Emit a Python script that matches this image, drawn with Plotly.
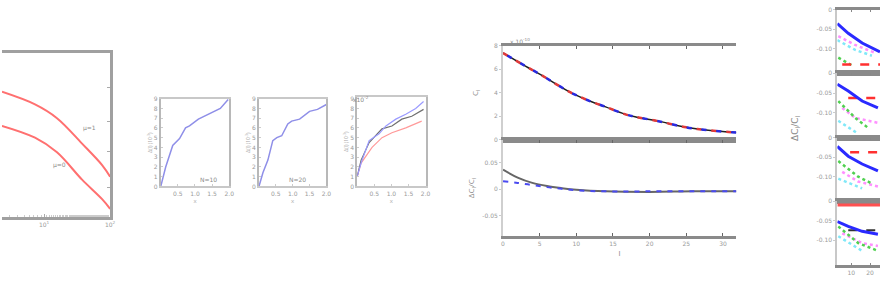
import plotly.graph_objects as go

W, H = 885, 288
def fx(p): return p / W
def fy(p): return 1 - p / H

# ---------------- Panel A (log x) ----------------
a_x = [2.31, 7.3, 15.7, 37.6, 75.6, 100]
a_upper = [0.762, 0.685, 0.601, 0.446, 0.315, 0.244]
a_lower = [0.554, 0.482, 0.393, 0.226, 0.107, 0.048]
a_labels = ["μ=1", "μ=0"]

# ---------------- Panel B ----------------
b1_x = [0, 0.29, 0.70, 1.10, 1.45, 1.68, 2.20, 2.78, 3.48, 3.94]
b1_y = [0, 2.0, 4.2, 4.9, 6.0, 6.2, 6.9, 7.4, 8.0, 8.9]
b2_x = [0, 0.235, 0.53, 0.82, 1.06, 1.35, 1.71, 1.94, 2.41, 3.0, 3.47, 4.0]
b2_y = [0, 1.4, 2.7, 4.7, 5.0, 5.2, 6.4, 6.7, 6.9, 7.7, 7.9, 8.4]
b3_x_blue = [0, 0.23, 0.70, 1.28, 1.68, 2.26, 2.84, 3.42, 3.88]
b3_blue = [1.0, 2.4, 4.7, 5.4, 6.2, 6.9, 7.4, 8.0, 8.7]
b3_x_black = [0, 0.23, 0.70, 1.45, 2.03, 2.61, 3.19, 3.88]
b3_black = [1.0, 2.7, 4.5, 5.9, 6.2, 6.9, 7.2, 7.9]
b3_x_red = [0, 0.23, 0.87, 1.45, 2.03, 2.84, 3.77]
b3_red = [1.0, 2.4, 4.0, 5.0, 5.5, 6.0, 6.7]
b_xticks = [1, 2, 3, 4]
b_xticktext = ["0.5", "1.0", "1.5", "2.0"]

# ---------------- Panel C ----------------
c_l = [0, 3, 5, 9, 12, 14, 16.5, 18, 21, 25, 28, 32]
c_cl = [7.4, 6.3, 5.6, 4.1, 3.25, 2.8, 2.2, 1.95, 1.6, 1.05, 0.8, 0.6]
c_l2 = [0, 2, 4, 6, 8, 10, 14, 20, 26, 32]
c_dblack = [0.037, 0.022, 0.012, 0.006, 0.002, -0.001, -0.004, -0.005, -0.004, -0.004]
c_dblue = [0.015, 0.012, 0.008, 0.004, 0.001, -0.002, -0.004, -0.004, -0.004, -0.004]
c_xticks = [0, 5, 10, 15, 20, 25, 30]
c_yticks_top = [0, 2, 4, 6, 8]
c_yticks_bot = [-0.05, 0, 0.05]

# ---------------- Panel D (4 stacked) ----------------
d_panels = [
    {"blue": ([2.6, 8.4, 15.8, 25.3], [-0.035, -0.06, -0.085, -0.1075]),
     "pink": ([3.1, 12.1, 22.6], [-0.0675, -0.09, -0.11]),
     "cyan": ([2.6, 12.1, 21.0], [-0.0775, -0.1025, -0.1175]),
     "green": ([3.1, 10.5], [-0.1225, -0.1425]),
     "red": ([5.2, 25.3], [-0.14, -0.14])},
    {"blue": ([2.6, 8.4, 15.8, 24.2], [-0.0275, -0.045, -0.07, -0.0875]),
     "red": ([8.4, 25.3], [-0.0625, -0.0625]),
     "green": ([3.1, 12.1, 18.9], [-0.07, -0.1125, -0.1375]),
     "pink": ([5.2, 12.1, 24.2], [-0.0875, -0.1125, -0.125]),
     "cyan": ([3.1, 13.7], [-0.12, -0.1525])},
    {"blue": ([2.6, 8.4, 15.8, 24.2], [-0.0225, -0.0475, -0.0675, -0.085]),
     "red": ([9.4, 25.3], [-0.0375, -0.0375]),
     "green": ([3.1, 13.7, 21.0], [-0.06, -0.1, -0.1175]),
     "pink": ([5.2, 13.7, 24.2], [-0.0875, -0.1125, -0.125]),
     "cyan": ([3.1, 15.8], [-0.105, -0.13])},
    {"redsolid": ([2.6, 25.3], [-0.01, -0.01]),
     "blue": ([2.6, 8.4, 15.8, 24.2], [-0.0525, -0.065, -0.0775, -0.085]),
     "black": ([8.4, 25.3], [-0.075, -0.075]),
     "green": ([3.1, 13.7, 24.2], [-0.065, -0.1075, -0.1275]),
     "pink": ([5.2, 15.8, 24.2], [-0.0825, -0.1075, -0.115]),
     "cyan": ([3.1, 15.8], [-0.09, -0.1275])},
]
d_xticks = [10, 20]
d_yticks = [0, -0.05, -0.1]

fig = go.Figure()
layout = {}
tickfont = dict(size=6, color="#9a9a9a", family="DejaVu Sans")

def add(x, y, ax, color, width=1.5, dash="solid", shape="linear"):
    fig.add_trace(go.Scatter(x=x, y=y, mode="lines", xaxis="x" + ("" if ax == 1 else str(ax)),
                             yaxis="y" + ("" if ax == 1 else str(ax)),
                             line=dict(color=color, width=width, dash=dash, shape=shape),
                             showlegend=False, hoverinfo="skip"))

def setax(i, xd, yd, xopt, yopt):
    k = "" if i == 1 else str(i)
    xo = dict(domain=[fx(xd[0]), fx(xd[1])], anchor="y" + k, showgrid=False, zeroline=False,
              tickfont=tickfont)
    yo = dict(domain=[fy(yd[1]), fy(yd[0])], anchor="x" + k, showgrid=False, zeroline=False,
              tickfont=tickfont)
    xo.update(xopt); yo.update(yopt)
    layout["xaxis" + k] = xo
    layout["yaxis" + k] = yo

# Panel A
add(a_x, a_upper, 1, "#ff7070", 2, shape="spline")
add(a_x, a_lower, 1, "#ff7070", 2, shape="spline")
setax(1, (0, 109), (50, 218),
      dict(type="log", range=[0.364, 2.0], showline=True, mirror=True, linecolor="#a0a0a0",
           linewidth=3, ticks="inside", ticklen=3, tickcolor="#aaa", tickvals=[10, 100],
           ticktext=["10<sup>1</sup>", "10<sup>2</sup>"], minor=dict(ticks="inside", ticklen=2, tickcolor="#ccc")),
      dict(range=[0, 1], side="right", showline=True, mirror=False, linecolor="#a0a0a0", linewidth=3,
           ticks="inside", ticklen=3, tickcolor="#aaa", tickvals=[0.18, 0.40, 0.58, 0.79],
           showticklabels=False))

# Panel B
bx = dict(range=[0, 4], showline=True, mirror=True, linecolor="#c8c8c8", linewidth=2,
          ticks="inside", ticklen=2, tickcolor="#ccc", tickvals=b_xticks, ticktext=b_xticktext,
          title=dict(text="x", font=dict(size=6, color="#aaa"), standoff=2))
by = dict(showline=True, mirror=True, linecolor="#b8b8b8", linewidth=2, ticks="inside", ticklen=2,
          tickcolor="#ccc", dtick=1, title=dict(text="Δ(l) (10<sup>-3</sup>)", font=dict(size=5, color="#aaa"), standoff=1))
add(b1_x, b1_y, 2, "#8f8fe8", 1.5)
setax(2, (160, 229), (97, 187), bx, dict(by, range=[0, 9]))
add(b2_x, b2_y, 3, "#8f8fe8", 1.5)
setax(3, (259, 327), (97, 187), bx, dict(by, range=[0, 9]))
add(b3_x_red, b3_red, 4, "#ff9a9a", 1.2)
add(b3_x_black, b3_black, 4, "#707070", 1.2)
add(b3_x_blue, b3_blue, 4, "#9a9aff", 1.2)
setax(4, (358, 427), (95, 187), bx, dict(by, range=[0, 9.2]))

# Panel C
add(c_l, c_cl, 5, "#202020", 1.5, shape="spline")
add(c_l, c_cl, 5, "#e03a3a", 2.5, dash="5px,10px", shape="spline")
add(c_l, c_cl, 5, "#2a2ae0", 2.5, dash="0px,5px,5px,5px", shape="spline")
setax(5, (505, 740), (43, 139),
      dict(range=[0, 31.8], showline=True, mirror="allticks", linecolor="#8a8a8a", linewidth=3,
           ticks="inside", ticklen=3, tickcolor="#666", tickvals=c_xticks, showticklabels=False),
      dict(range=[0, 8], showline=True, linecolor="#cfcfcf", linewidth=2, ticks="outside", ticklen=2,
           tickcolor="#ccc", tickvals=c_yticks_top,
           title=dict(text="C<sub>l</sub>", font=dict(size=8, color="#888"), standoff=14)))
add(c_l2, c_dblack, 6, "#666666", 2, shape="spline")
add(c_l2, c_dblue, 6, "#4a4af0", 2, dash="5px,6px", shape="spline")
setax(6, (505, 740), (139, 238),
      dict(range=[0, 31.8], showline=True, mirror="allticks", linecolor="#8a8a8a", linewidth=3,
           ticks="inside", ticklen=3, tickcolor="#666", tickvals=c_xticks,
           title=dict(text="l", font=dict(size=8, color="#888"), standoff=4)),
      dict(range=[-0.089, 0.094], showline=True, linecolor="#cfcfcf", linewidth=2, ticks="outside",
           ticklen=2, tickcolor="#ccc", tickvals=c_yticks_bot, ticktext=["-0.05", "0", "0.05"],
           title=dict(text="ΔC<sub>l</sub>/C<sub>l</sub>", font=dict(size=8, color="#888"), standoff=6)))

# Panel D
d_colors = {"blue": ("#2a2aff", 3, "solid"), "pink": ("#ff90ff", 2.5, "dot"),
            "cyan": ("#80e8f8", 2.5, "dot"), "green": ("#50d050", 2.5, "dot"),
            "red": ("#ff3030", 2.5, "dash"), "redsolid": ("#ff5050", 3, "solid"),
            "black": ("#333333", 2, "dash")}
d_bounds = [(6, 71), (71, 137), (137, 202), (202, 267)]
for j, (pan, bd) in enumerate(zip(d_panels, d_bounds)):
    ax = 7 + j
    for key in ["cyan", "pink", "green", "red", "redsolid", "black", "blue"]:
        if key in pan:
            c, w, d = d_colors[key]
            add(pan[key][0], pan[key][1], ax, c, w, d)
    setax(ax, (842, 885), bd,
          dict(range=[2.6, 25.3], showline=True, mirror="allticks", linecolor="#8a8a8a", linewidth=3,
               ticks="inside", ticklen=2, tickcolor="#888", tickvals=d_xticks,
               showticklabels=(j == 3)),
          dict(range=[-0.1625, 0.0], showline=True, linecolor="#c8c8c8", linewidth=2, ticks="outside",
               ticklen=2, tickcolor="#ccc", tickvals=d_yticks, ticktext=["0", "-0.05", "-0.10"]))

annotations = [
    dict(x=fx(80), y=fy(127), text=a_labels[0]),
    dict(x=fx(49), y=fy(165), text=a_labels[1]),
    dict(x=fx(198), y=fy(180), text="N=10"),
    dict(x=fx(298), y=fy(180), text="N=20"),
    dict(x=fx(362), y=fy(91), text="x10<sup>-2</sup>"),
    dict(x=fx(522), y=fy(32), text="x 10<sup>-10</sup>"),
    dict(x=fx(808), y=fy(127), text="ΔC<sub>l</sub>/C<sub>l</sub>", textangle=-90, size=9),
]
ann = []
for a in annotations:
    s = a.pop("size", 6)
    ann.append(dict(a, xref="paper", yref="paper", showarrow=False,
                    font=dict(size=s, color="#8a8a8a", family="DejaVu Sans")))

layout.update(width=W, height=H, margin=dict(l=0, r=0, t=0, b=0), paper_bgcolor="white",
              plot_bgcolor="white", annotations=ann, showlegend=False)
fig.update_layout(**layout)
fig.write_html("out.html")
